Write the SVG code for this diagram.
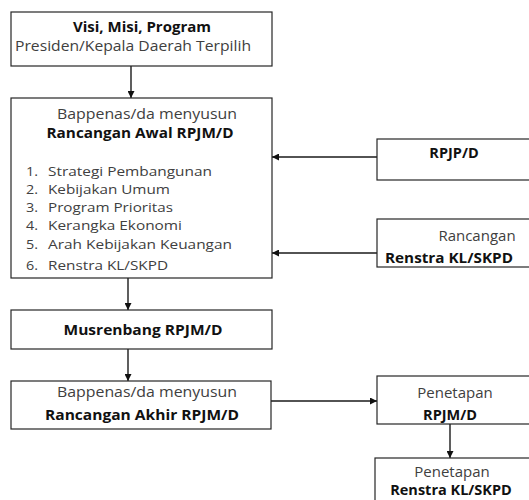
<svg xmlns="http://www.w3.org/2000/svg" width="529" height="500" viewBox="0 0 529 500">
<style>
.box{fill:#fff;stroke:#262626;stroke-width:1.2}
.t{font-family:"Open Sans","DejaVu Sans",sans-serif;font-size:15px;fill:#404040}
.li{font-family:"Open Sans","DejaVu Sans",sans-serif;font-size:13.2px;fill:#404040}
.b{font-family:"Open Sans","DejaVu Sans",sans-serif;font-size:14.5px;font-weight:bold;fill:#111}
.c{text-anchor:middle}
.ln{stroke:#1a1a1a;stroke-width:1.4;fill:none;marker-end:url(#ah)}
</style>
<defs>
<marker id="ah" viewBox="0 0 10 10" refX="10" refY="5" markerWidth="7" markerHeight="7" orient="auto" markerUnits="userSpaceOnUse">
<path d="M0,0 L10,5 L0,10 z" fill="#111"/>
</marker>
</defs>
<rect width="529" height="500" fill="#fff"/>
<g id="connectors">
<line class="ln" x1="131" y1="66" x2="131" y2="98"/>
<line class="ln" x1="128" y1="278" x2="128" y2="310"/>
<line class="ln" x1="128" y1="349" x2="128" y2="381"/>
<line class="ln" x1="377" y1="157" x2="272" y2="157"/>
<line class="ln" x1="377" y1="253" x2="272" y2="253"/>
<line class="ln" x1="271" y1="401" x2="377" y2="401"/>
<line class="ln" x1="450" y1="424" x2="450" y2="458"/>
</g>
<g id="visi">
<rect class="box" x="11" y="12" width="261" height="54"/>
<text class="b c" x="142" y="32" textLength="138" lengthAdjust="spacingAndGlyphs">Visi, Misi, Program</text>
<text class="t c" x="133" y="51" textLength="236" lengthAdjust="spacingAndGlyphs">Presiden/Kepala Daerah Terpilih</text>
</g>
<g id="rancangan-awal">
<rect class="box" x="11" y="98" width="261" height="180"/>
<text class="t c" x="147" y="119" textLength="180" lengthAdjust="spacingAndGlyphs">Bappenas/da menyusun</text>
<text class="b c" x="140" y="138" textLength="187" lengthAdjust="spacingAndGlyphs">Rancangan Awal RPJM/D</text>
<text class="li" x="26" y="176" textLength="12" lengthAdjust="spacingAndGlyphs">1.</text><text class="li" x="48" y="176" textLength="164" lengthAdjust="spacingAndGlyphs">Strategi Pembangunan</text>
<text class="li" x="26" y="194" textLength="12" lengthAdjust="spacingAndGlyphs">2.</text><text class="li" x="48" y="194" textLength="122" lengthAdjust="spacingAndGlyphs">Kebijakan Umum</text>
<text class="li" x="26" y="212" textLength="12" lengthAdjust="spacingAndGlyphs">3.</text><text class="li" x="48" y="212" textLength="125" lengthAdjust="spacingAndGlyphs">Program Prioritas</text>
<text class="li" x="26" y="230" textLength="12" lengthAdjust="spacingAndGlyphs">4.</text><text class="li" x="48" y="230" textLength="134" lengthAdjust="spacingAndGlyphs">Kerangka Ekonomi</text>
<text class="li" x="26" y="249" textLength="12" lengthAdjust="spacingAndGlyphs">5.</text><text class="li" x="48" y="249" textLength="184" lengthAdjust="spacingAndGlyphs">Arah Kebijakan Keuangan</text>
<text class="li" x="26" y="270" textLength="12" lengthAdjust="spacingAndGlyphs">6.</text><text class="li" x="48" y="270" textLength="120" lengthAdjust="spacingAndGlyphs">Renstra KL/SKPD</text>
</g>
<g id="musrenbang">
<rect class="box" x="11" y="310" width="261" height="39"/>
<text class="b c" x="143" y="335" textLength="159" lengthAdjust="spacingAndGlyphs">Musrenbang RPJM/D</text>
</g>
<g id="rancangan-akhir">
<rect class="box" x="11" y="381" width="260" height="48"/>
<text class="t c" x="147" y="397" textLength="180" lengthAdjust="spacingAndGlyphs">Bappenas/da menyusun</text>
<text class="b c" x="142" y="420" textLength="194" lengthAdjust="spacingAndGlyphs">Rancangan Akhir RPJM/D</text>
</g>
<g id="rpjp">
<rect class="box" x="377" y="139" width="160" height="41"/>
<text class="b c" x="454" y="158">RPJP/D</text>
</g>
<g id="rancangan-renstra">
<rect class="box" x="377" y="219" width="160" height="48"/>
<text class="t c" x="477" y="241">Rancangan</text>
<text class="b c" x="449" y="263" textLength="128" lengthAdjust="spacingAndGlyphs">Renstra KL/SKPD</text>
</g>
<g id="penetapan-rpjm">
<rect class="box" x="377" y="376" width="160" height="48"/>
<text class="t c" x="455" y="398">Penetapan</text>
<text class="b c" x="450" y="420">RPJM/D</text>
</g>
<g id="penetapan-renstra">
<rect class="box" x="375" y="458" width="162" height="60"/>
<text class="t c" x="452" y="477">Penetapan</text>
<text class="b c" x="451" y="495">Renstra KL/SKPD</text>
</g>
</svg>
